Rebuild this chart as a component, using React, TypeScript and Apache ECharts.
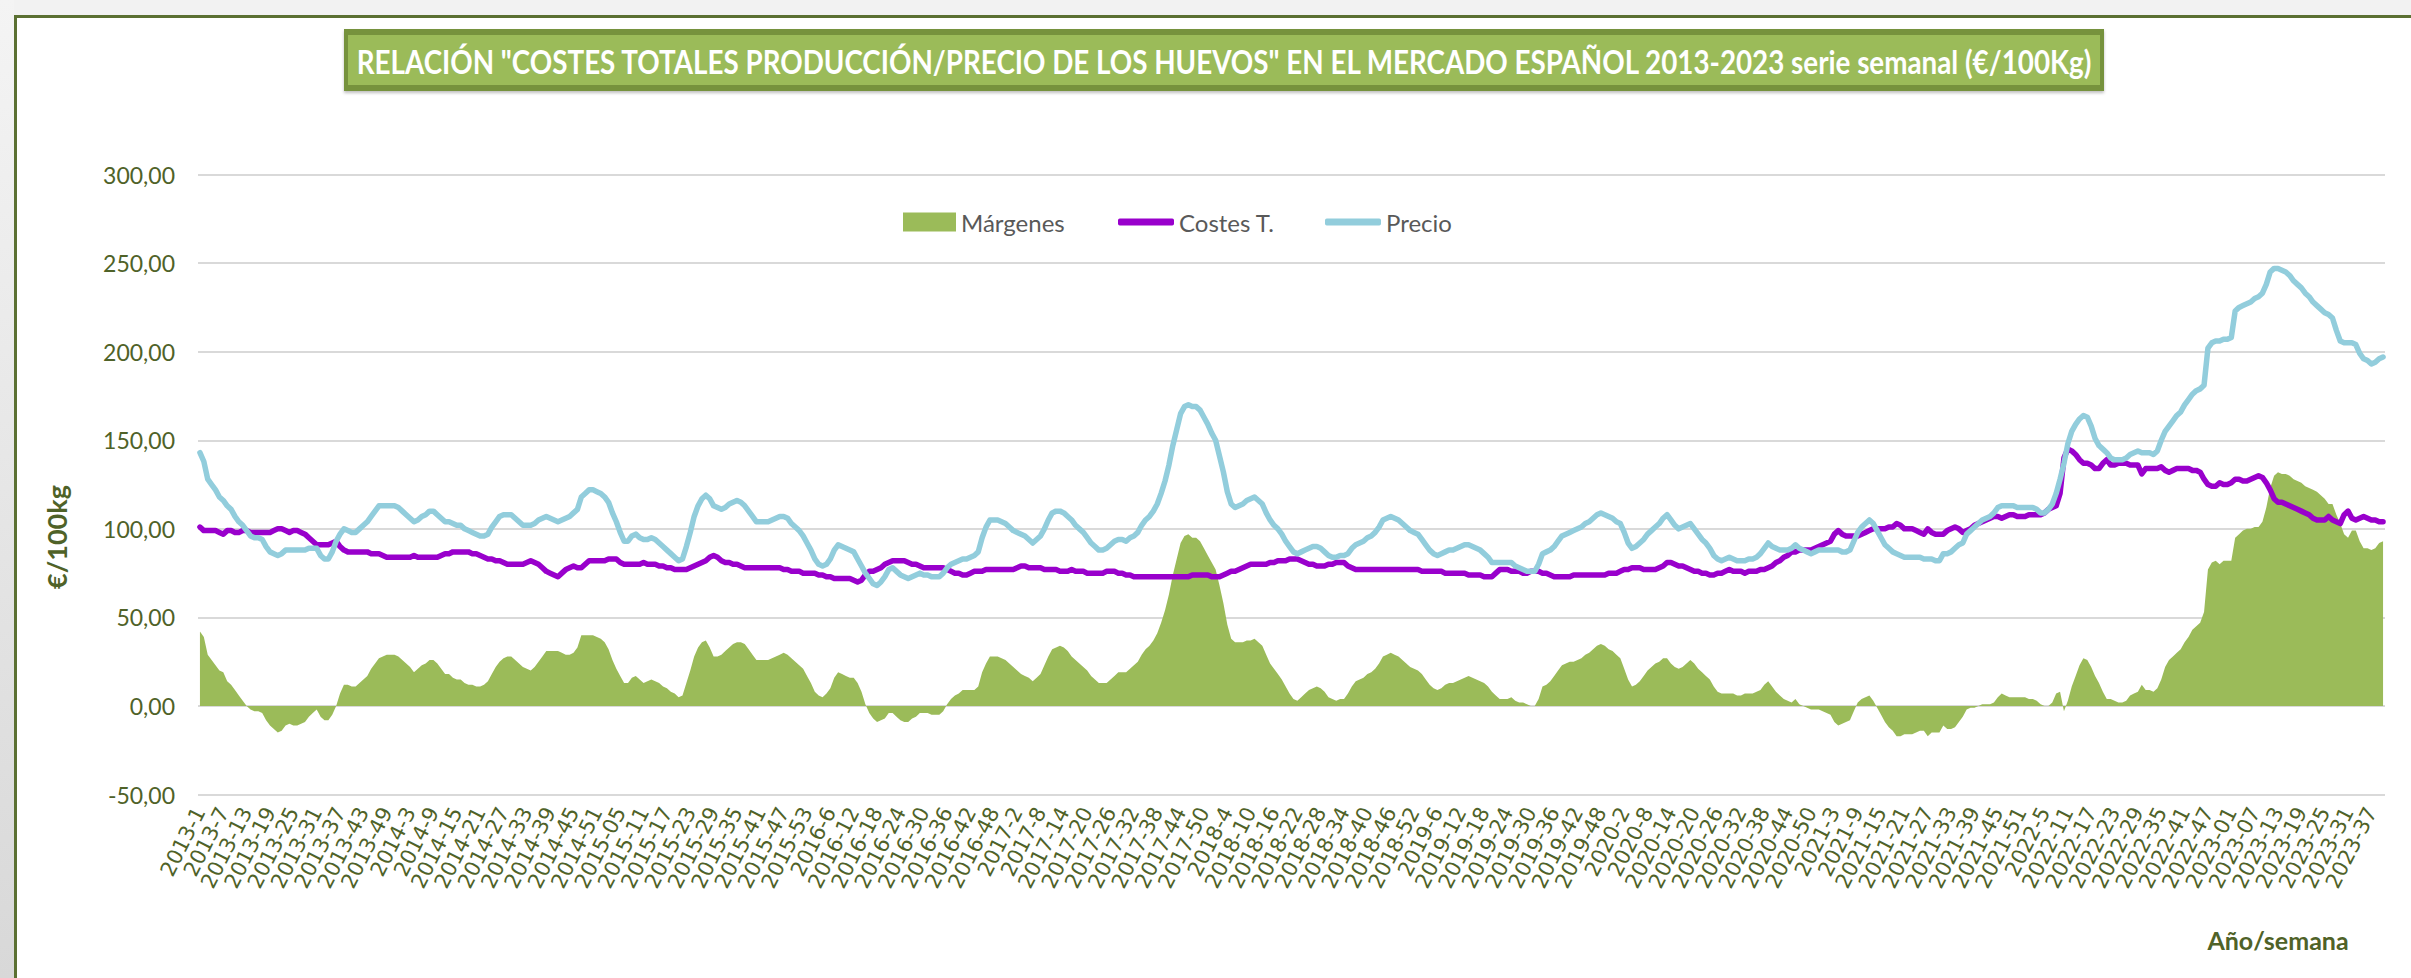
import React, { useEffect, useRef } from "react";
import * as echarts from "echarts";

// ---- categories (year / ISO week) ----
const YEARS = [2013, 2014, 2015, 2016, 2017, 2018, 2019, 2020, 2021, 2022, 2023];
const WEEKS_IN_YEAR = [52, 52, 53, 52, 52, 52, 52, 53, 52, 52, 40];
const ZERO_PADDED_YEARS = [2015, 2023];

// ---- Precio (€/100kg), weekly ----
const precio2013 = [143,138,128,125,122,118,116,113,111,107,104,102,99,96,95,95,94,90,87,86,85,86,88,88,88,88,88,88,89,89,89,85,83,83,87,93,97,100,99,98,98,100,102,104,107,110,113,113,113,113,113,112];
const precio2014 = [110,108,106,104,105,107,108,110,110,108,106,104,104,103,102,102,100,99,98,97,96,96,97,101,104,107,108,108,108,106,104,102,102,102,103,105,106,107,106,105,104,105,106,107,109,111,118,120,122,122,121,120];
const precio2015 = [118,115,109,104,98,93,93,96,97,95,94,94,95,94,92,90,88,86,84,82,83,90,98,107,113,117,119,117,113,112,111,112,114,115,116,115,113,110,107,104,104,104,104,105,106,107,107,106,103,101,99,96,92];
const precio2016 = [88,83,80,79,80,83,88,91,90,89,88,87,83,79,75,72,69,68,70,73,77,78,76,74,73,72,73,74,75,74,74,73,73,73,75,78,80,81,82,83,83,84,85,87,95,101,105,105,105,104,103,101];
const precio2017 = [99,98,97,96,94,92,94,96,100,105,109,110,110,109,107,105,102,100,98,95,92,90,88,88,89,91,93,94,94,93,95,96,98,102,105,107,110,114,120,127,136,147,156,165,169,170,169,169,167,163,159,154];
const precio2018 = [150,141,132,121,114,112,113,114,116,117,118,116,114,109,105,102,100,97,93,90,87,86,87,88,89,90,90,89,87,85,84,84,85,85,86,89,91,92,93,95,96,98,101,105,106,107,106,105,103,101,99,98];
const precio2019 = [97,94,91,88,86,85,86,87,88,88,89,90,91,91,90,89,88,86,84,81,81,81,81,81,81,79,78,77,76,76,76,80,86,87,88,90,93,96,97,98,99,100,101,103,104,106,108,109,108,107,106,104];
const precio2020 = [103,98,92,89,90,92,94,97,99,101,103,106,108,105,102,100,101,102,103,100,97,94,92,89,85,83,82,83,84,83,82,82,82,83,83,84,86,89,92,90,89,88,88,88,89,91,89,88,87,86,87,88,88];
const precio2021 = [88,88,88,88,87,87,88,93,98,101,103,105,103,99,95,91,89,87,86,85,84,84,84,84,84,83,83,83,82,82,86,86,87,89,91,92,97,99,101,103,105,106,107,109,112,113,113,113,113,112,112,112];
const precio2022 = [112,112,111,109,109,111,114,120,128,137,148,155,159,162,164,163,158,151,147,145,143,140,139,139,139,140,142,143,144,143,143,143,142,144,150,155,158,161,164,166,170,173,176,178,179,181,202,205,206,206,207,207];
const precio2023 = [208,223,225,226,227,228,230,231,233,238,245,247,247,246,245,243,240,238,236,233,231,228,226,224,222,221,219,212,206,205,205,205,204,199,196,195,193,194,196,197];

// ---- Costes totales (€/100kg), weekly ----
const costes2013 = [101,99,99,99,99,98,97,99,99,98,98,99,99,98,98,98,98,98,98,99,100,100,99,98,99,99,98,97,95,93,91,91,91,91,92,93,90,88,87,87,87,87,87,87,86,86,86,85,84,84,84,84];
const costes2014 = [84,84,84,85,84,84,84,84,84,84,85,86,86,87,87,87,87,87,86,86,85,84,83,83,82,82,81,80,80,80,80,80,81,82,81,80,78,76,75,74,73,75,77,78,79,78,78,80,82,82,82,82];
const costes2015 = [82,83,83,83,81,80,80,80,80,80,81,80,80,80,79,79,78,78,77,77,77,77,78,79,80,81,82,84,85,84,82,81,81,80,80,79,78,78,78,78,78,78,78,78,78,78,77,77,76,76,76,75,75];
const costes2016 = [75,75,74,74,73,73,72,72,72,72,72,71,70,71,74,76,76,77,78,80,81,82,82,82,82,81,80,80,79,78,78,78,78,78,78,77,76,75,75,74,74,75,76,76,76,77,77,77,77,77,77,77];
const costes2017 = [77,78,79,79,78,78,78,78,77,77,77,77,76,76,76,77,76,76,76,75,75,75,75,75,76,76,76,75,75,74,74,73,73,73,73,73,73,73,73,73,73,73,73,73,73,73,74,74,74,74,74,73];
const costes2018 = [73,73,74,75,76,76,77,78,79,80,80,80,80,80,81,81,82,82,82,83,83,83,82,81,80,80,79,79,79,80,80,81,81,81,79,78,77,77,77,77,77,77,77,77,77,77,77,77,77,77,77,77];
const costes2019 = [77,76,76,76,76,76,76,75,75,75,75,75,75,74,74,74,74,73,73,73,75,77,77,77,76,76,76,75,75,76,76,76,75,75,74,73,73,73,73,73,74,74,74,74,74,74,74,74,74,75,75,75];
const costes2020 = [76,77,77,78,78,78,77,77,77,77,78,79,81,81,80,79,79,78,77,76,76,75,75,74,74,75,75,76,77,76,76,76,75,76,76,76,77,77,78,79,81,82,84,85,87,87,88,88,88,88,89,90,91];
const costes2021 = [92,93,97,99,97,96,96,96,96,97,98,99,100,100,100,100,101,101,103,102,100,100,100,99,98,97,100,98,97,97,97,99,100,101,100,98,99,100,102,103,104,105,106,107,107,106,107,108,108,107,107,107];
const costes2022 = [108,108,108,108,109,111,112,113,120,140,145,144,142,139,137,137,136,134,134,137,139,136,136,137,137,137,136,136,136,131,134,134,134,134,135,133,132,133,134,134,134,134,133,133,132,128,125,124,124,126,125,125];
const costes2023 = [126,128,128,127,127,128,129,130,129,126,122,117,115,115,114,113,112,111,110,109,108,106,105,105,105,107,105,104,103,108,110,106,105,106,107,106,105,105,104,104];

const SERIES_NAMES = ["Márgenes", "Costes T.", "Precio"];
const TITLE = 'RELACIÓN "COSTES TOTALES PRODUCCIÓN/PRECIO DE LOS HUEVOS" EN EL MERCADO ESPAÑOL 2013-2023 serie semanal (€/100Kg)';
const Y_NAME = "€/100kg";
const X_NAME = "Año/semana";

const categories: string[] = [];
YEARS.forEach((y, k) => {
  for (let w = 1; w <= WEEKS_IN_YEAR[k]; w++) {
    const wk = ZERO_PADDED_YEARS.includes(y) && w < 10 ? "0" + w : String(w);
    categories.push(`${y}-${wk}`);
  }
});

const precio = [
  ...precio2013, ...precio2014, ...precio2015, ...precio2016, ...precio2017, ...precio2018,
  ...precio2019, ...precio2020, ...precio2021, ...precio2022, ...precio2023,
];
const costes = [
  ...costes2013, ...costes2014, ...costes2015, ...costes2016, ...costes2017, ...costes2018,
  ...costes2019, ...costes2020, ...costes2021, ...costes2022, ...costes2023,
];
// Margin = price - total cost (the chart's own definition)
const margenes = precio.map((p, i) => p - costes[i]);

const OLIVE = "#4F6228";
const LEGEND_TEXT = { fontFamily: "Lato", fontSize: 24, color: "#595959" };
const TITLE_FONT_FAMILY = "Lato";
const TITLE_FONT_SIZE = 33;
const TITLE_TARGET_WIDTH = 1737;

function measureTitleScale(): number {
  try {
    const c = document.createElement("canvas");
    const ctx = c.getContext("2d");
    if (!ctx) return 0.85;
    ctx.font = `bold ${TITLE_FONT_SIZE}px ${TITLE_FONT_FAMILY}`;
    const w = ctx.measureText(TITLE).width;
    return w > 0 ? Math.min(1.2, TITLE_TARGET_WIDTH / w) : 0.85;
  } catch (e) {
    return 0.85;
  }
}

export default function App() {
  const ref = useRef<HTMLDivElement>(null);
  useEffect(() => {
    if (!ref.current) return;
    const chart = echarts.init(ref.current, undefined, { renderer: "svg" });
    const titleScale = measureTitleScale();
    chart.setOption({
      animation: false,
      backgroundColor: "#ffffff",
      grid: { left: 198, right: 26, top: 174.5, bottom: 183.4, containLabel: false },
      legend: [
        {
          data: [{ name: SERIES_NAMES[0], icon: "rect" }],
          left: 903, top: 210, padding: 0, itemWidth: 53, itemHeight: 19,
          textStyle: LEGEND_TEXT, selectedMode: false,
        },
        {
          data: [{ name: SERIES_NAMES[1], icon: "roundRect" }],
          left: 1118, top: 210, padding: 0, itemWidth: 56, itemHeight: 7,
          textStyle: LEGEND_TEXT, selectedMode: false,
        },
        {
          data: [{ name: SERIES_NAMES[2], icon: "roundRect" }],
          left: 1325, top: 210, padding: 0, itemWidth: 56, itemHeight: 7,
          textStyle: LEGEND_TEXT, selectedMode: false,
        },
      ],
      xAxis: {
        type: "category",
        data: categories,
        boundaryGap: true,
        axisLine: { show: false },
        axisTick: { show: false },
        splitLine: { show: false },
        axisLabel: {
          interval: 5,
          rotate: 63,
          margin: 14,
          fontFamily: "DejaVu Sans",
          fontSize: 21,
          color: OLIVE,
        },
      },
      yAxis: {
        type: "value",
        min: -50,
        max: 300,
        interval: 50,
        axisLine: { show: false },
        axisTick: { show: false },
        splitLine: { lineStyle: { color: "#D9D9D9", width: 2 } },
        axisLabel: {
          margin: 23,
          fontFamily: "Lato",
          fontSize: 23,
          color: OLIVE,
          formatter: (v: number) => v.toFixed(2).replace(".", ","),
        },
      },
      series: [
        {
          name: SERIES_NAMES[0],
          type: "line",
          data: margenes,
          showSymbol: false,
          color: "#9BBB59",
          itemStyle: { color: "#9BBB59" },
          lineStyle: { width: 0 },
          areaStyle: { color: "#9BBB59", opacity: 1 },
        },
        {
          name: SERIES_NAMES[1],
          type: "line",
          data: costes,
          showSymbol: false,
          color: "#9900CC",
          itemStyle: { color: "#9900CC" },
          lineStyle: { width: 5.5, color: "#9900CC", cap: "round", join: "round" },
        },
        {
          name: SERIES_NAMES[2],
          type: "line",
          data: precio,
          showSymbol: false,
          color: "#92CDDC",
          itemStyle: { color: "#92CDDC" },
          lineStyle: { width: 5.5, color: "#92CDDC", cap: "round", join: "round" },
        },
      ],
      graphic: [
        { type: "rect", shape: { x: 0, y: 0, width: 2411, height: 15 }, style: { fill: "#F2F2F2" }, silent: true },
        {
          type: "rect", shape: { x: 0, y: 0, width: 14, height: 978 }, silent: true,
          style: {
            fill: new echarts.graphic.LinearGradient(0, 0, 0, 1, [
              { offset: 0, color: "#F4F4F4" },
              { offset: 1, color: "#D8D8D8" },
            ]),
          },
        },
        { type: "polyline", shape: { points: [[15.5, 978], [15.5, 16.5], [2411, 16.5]] }, style: { stroke: "#5B7032", lineWidth: 3, fill: "none" }, silent: true },
        {
          type: "rect", shape: { x: 344, y: 29, width: 1760, height: 62 }, silent: true,
          style: { fill: "#76923C", shadowColor: "rgba(0,0,0,0.25)", shadowBlur: 3, shadowOffsetY: 2 },
        },
        { type: "rect", shape: { x: 348, y: 35, width: 1752, height: 50 }, style: { fill: "#9BBB59" }, silent: true },
        {
          type: "text", x: 1224, y: 61, scaleX: titleScale, scaleY: 1, silent: true,
          style: {
            text: TITLE, fill: "#FFFFFF", align: "center", verticalAlign: "middle",
            fontFamily: TITLE_FONT_FAMILY,
            fontWeight: "bold", fontSize: TITLE_FONT_SIZE,
          },
        },
        {
          type: "text", x: 56, y: 537, rotation: Math.PI / 2, silent: true,
          style: { text: Y_NAME, fill: OLIVE, align: "center", verticalAlign: "middle", fontFamily: "Lato", fontWeight: "bold", fontSize: 27 },
        },
        {
          type: "text", x: 2278, y: 940, silent: true,
          style: { text: X_NAME, fill: OLIVE, align: "center", verticalAlign: "middle", fontFamily: "Lato", fontWeight: "bold", fontSize: 25 },
        },
      ],
    });
    return () => chart.dispose();
  }, []);
  return (
    <div
      ref={ref}
      style={{ position: "absolute", left: 0, top: 0, width: 2411, height: 978 }}
    />
  );
}
